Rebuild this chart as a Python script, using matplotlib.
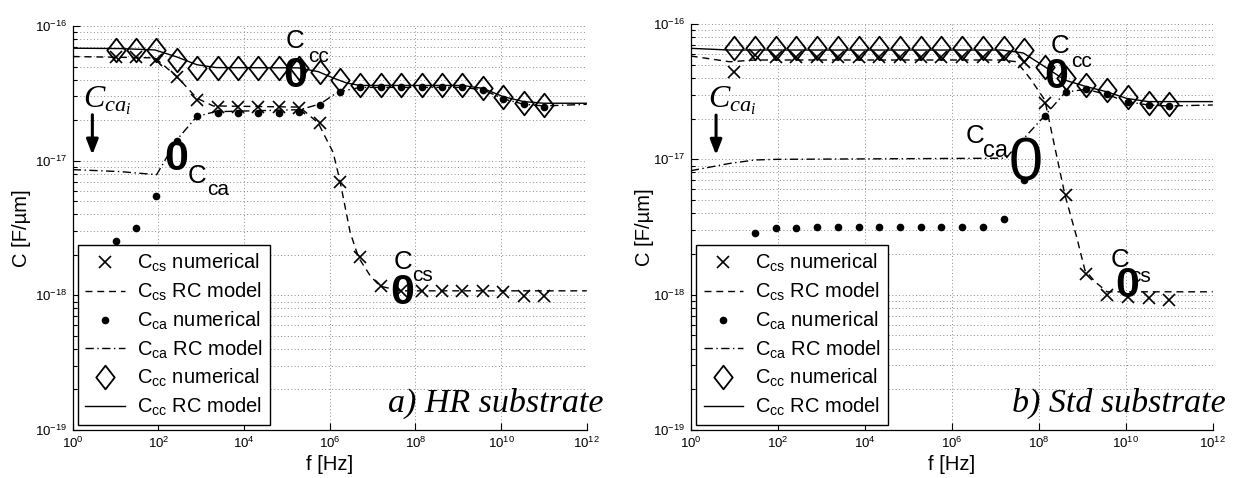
import numpy as np
import matplotlib
matplotlib.use("Agg")
import matplotlib.pyplot as plt
from matplotlib.path import Path
from matplotlib.ticker import FixedLocator, LogLocator, NullLocator, NullFormatter

plt.rcParams.update({
    "font.family": ["Liberation Sans", "DejaVu Sans"],
    "mathtext.fontset": "custom",
    "mathtext.rm": "Liberation Sans",
    "mathtext.it": "Liberation Serif:italic",
    "mathtext.bf": "Liberation Sans:bold",
})

# ---------------------------------------------------------------- data
# frequencies of the numerical (field-solver) samples [Hz]
f_num = [1.00e1, 2.99e1, 8.96e1, 2.68e2, 8.03e2, 2.40e3, 7.20e3, 2.15e4,
         6.45e4, 1.93e5, 5.78e5, 1.73e6, 5.18e6, 1.55e7, 4.64e7, 1.39e8,
         4.16e8, 1.245e9, 3.73e9, 1.12e10, 3.34e10, 1.00e11]

# a) HR substrate -- numerical results [F/um]
hr_ccs_num = [5.9e-17, 5.9e-17, 5.6e-17, 4.2e-17, 2.83e-17, 2.52e-17, 2.5e-17,
              2.5e-17, 2.5e-17, 2.45e-17, 1.9e-17, 7.0e-18, 1.91e-18, 1.17e-18,
              1.08e-18, 1.08e-18, 1.08e-18, 1.08e-18, 1.08e-18, 1.05e-18,
              0.99e-18, 0.99e-18]
hr_cca_num = [2.52e-18, 3.17e-18, 5.44e-18, 1.39e-17, 2.13e-17, 2.27e-17,
              2.27e-17, 2.27e-17, 2.27e-17, 2.3e-17, 2.6e-17, 3.26e-17,
              3.51e-17, 3.51e-17, 3.51e-17, 3.51e-17, 3.51e-17, 3.51e-17,
              3.36e-17, 2.88e-17, 2.63e-17, 2.52e-17]
hr_ccc_num = [6.64e-17, 6.64e-17, 6.64e-17, 5.6e-17, 4.86e-17, 4.86e-17,
              4.86e-17, 4.86e-17, 4.86e-17, 4.86e-17, 4.59e-17, 3.98e-17,
              3.66e-17, 3.66e-17, 3.66e-17, 3.66e-17, 3.66e-17, 3.66e-17,
              3.46e-17, 2.99e-17, 2.67e-17, 2.6e-17]

# a) HR substrate -- RC model curves
hr_ccs_f = [1e0, 8.3e1, 2.7e2, 7.9e2, 1.9e3, 2.0e5, 5.4e5, 1.2e6, 1.74e6,
            3.0e6, 4.7e6, 8.9e6, 1.5e7, 4.5e7, 1e12]
hr_ccs_rc = [5.93e-17, 5.8e-17, 4.21e-17, 2.91e-17, 2.55e-17, 2.5e-17,
             1.9e-17, 1.15e-17, 7.03e-18, 2.93e-18, 1.91e-18, 1.39e-18,
             1.17e-18, 1.08e-18, 1.08e-18]

hr_cca_f = [1e0, 1.26e1, 9.1e1, 2.7e2, 7.9e2, 2.1e3, 2.0e5, 6.0e5, 1.23e6,
            1.78e6, 5.1e6, 1.26e9, 3.8e9, 1.12e10, 3.3e10, 9.8e10, 1e12]
hr_cca_rc = [8.58e-18, 8.3e-18, 7.87e-18, 1.43e-17, 2.13e-17, 2.31e-17,
             2.39e-17, 2.64e-17, 3.08e-17, 3.26e-17, 3.5e-17, 3.5e-17,
             3.36e-17, 2.88e-17, 2.63e-17, 2.55e-17, 2.62e-17]

hr_ccc_f = [1e0, 1.26e1, 8.3e1, 2.7e2, 7.9e2, 2.24e3, 1.86e5, 5.4e5, 1.23e6,
            2.5e6, 5.1e6, 1.26e9, 3.8e9, 1.12e10, 3.3e10, 9.8e10, 1e12]
hr_ccc_rc = [6.84e-17, 6.8e-17, 6.64e-17, 5.89e-17, 5.16e-17, 4.91e-17,
             4.89e-17, 4.58e-17, 4.1e-17, 3.77e-17, 3.62e-17, 3.62e-17,
             3.44e-17, 2.99e-17, 2.75e-17, 2.67e-17, 2.67e-17]

# b) Std substrate -- numerical results [F/um]
std_ccs_num = [4.44e-17, 5.9e-17, 5.75e-17, 5.75e-17, 5.75e-17, 5.75e-17,
               5.75e-17, 5.75e-17, 5.75e-17, 5.75e-17, 5.75e-17, 5.75e-17,
               5.75e-17, 5.73e-17, 5.27e-17, 2.6e-17, 5.45e-18, 1.43e-18,
               9.9e-19, 9.6e-19, 9.4e-19, 9.2e-19]
std_cca_num = [np.nan, 2.84e-18, 3.09e-18, 3.13e-18, 3.15e-18, 3.15e-18,
               3.15e-18, 3.15e-18, 3.15e-18, 3.15e-18, 3.15e-18, 3.15e-18,
               3.17e-18, 3.62e-18, 7.03e-18, 2.09e-17, 3.16e-17, 3.29e-17,
               3.02e-17, 2.67e-17, 2.52e-17, 2.48e-17]
std_ccc_num = [6.61e-17, 6.61e-17, 6.61e-17, 6.61e-17, 6.61e-17, 6.61e-17,
               6.61e-17, 6.61e-17, 6.61e-17, 6.61e-17, 6.61e-17, 6.61e-17,
               6.61e-17, 6.61e-17, 6.42e-17, 4.84e-17, 3.97e-17, 3.54e-17,
               3.25e-17, 2.9e-17, 2.6e-17, 2.56e-17]

# b) Std substrate -- RC model curves
std_ccs_f = [1e0, 7.9e0, 3.0e1, 1.4e7, 3.1e7, 6.3e7, 1.38e8, 4.0e8, 7.4e8,
             1.15e9, 2.0e9, 3.7e9, 1e12]
std_ccs_rc = [5.8e-17, 5.26e-17, 5.42e-17, 5.42e-17, 5.26e-17, 3.97e-17,
              2.74e-17, 5.45e-18, 2.68e-18, 1.52e-18, 1.24e-18, 1.05e-18,
              1.05e-18]

std_cca_f = [1e0, 7.9e0, 3.0e1, 9.5e1, 1.8e7, 2.2e7, 1.41e8, 4.1e8, 1.23e9,
             3.6e9, 1.05e10, 3.3e10, 9.5e10, 1e12]
std_cca_rc = [8.24e-18, 9.33e-18, 9.89e-18, 1.0e-17, 1.02e-17, 1.11e-17,
              2.12e-17, 3.14e-17, 3.29e-17, 3.02e-17, 2.67e-17, 2.52e-17,
              2.48e-17, 2.52e-17]

std_ccc_f = [1e0, 7.9e0, 1.4e7, 4.4e7, 1.38e8, 4.0e8, 1.26e9, 3.6e9, 1.05e10,
             3.3e10, 1e12]
std_ccc_rc = [6.61e-17, 6.42e-17, 6.42e-17, 6.11e-17, 4.83e-17, 3.85e-17,
              3.44e-17, 3.16e-17, 2.82e-17, 2.67e-17, 2.67e-17]

x_ticks = [1e0, 1e2, 1e4, 1e6, 1e8, 1e10, 1e12]

legend_labels = [r"$\mathregular{C_{cs}}$ numerical", r"$\mathregular{C_{cs}}$ RC model",
                 r"$\mathregular{C_{ca}}$ numerical", r"$\mathregular{C_{ca}}$ RC model",
                 r"$\mathregular{C_{cc}}$ numerical", r"$\mathregular{C_{cc}}$ RC model"]

# ---------------------------------------------------------------- styling
diamond = Path([(0, 1), (0.78, 0), (0, -1), (-0.78, 0), (0, 1)],
               [Path.MOVETO, Path.LINETO, Path.LINETO, Path.LINETO, Path.CLOSEPOLY])
DASH = (5, 3.5)
DASHDOT = (6, 2.5, 1, 2.5)
LW = 1.0


def draw_panel(ax, num, rc, caption, cap_x):
    ccs_n, cca_n, ccc_n = num
    (fs, cs), (fa, ca), (fc, cc) = rc
    h = []
    h += ax.plot(f_num, ccs_n, ls="none", marker="x", ms=9, mew=1.2, color="k")
    h += ax.plot(fs, cs, color="k", lw=LW, dashes=DASH)
    h += ax.plot(f_num, cca_n, ls="none", marker="o", ms=4.5, color="k")
    h += ax.plot(fa, ca, color="k", lw=LW, dashes=DASHDOT)
    h += ax.plot(f_num, ccc_n, ls="none", marker=diamond, ms=17, mew=1.3,
                 mfc="none", mec="k")
    h += ax.plot(fc, cc, color="k", lw=LW, ls="-")

    ax.set_xscale("log")
    ax.set_yscale("log")
    ax.set_xlim(1e0, 1e12)
    ax.set_ylim(1e-19, 1e-16)
    ax.xaxis.set_major_locator(FixedLocator(x_ticks))
    ax.xaxis.set_minor_locator(NullLocator())
    ax.yaxis.set_major_locator(LogLocator(base=10, numticks=10))
    ax.yaxis.set_minor_locator(LogLocator(base=10, subs=np.arange(2, 10), numticks=10))
    ax.yaxis.set_minor_formatter(NullFormatter())
    ax.tick_params(which="both", direction="in", labelsize=9.5, width=0.8)
    ax.tick_params(which="major", length=5, pad=4)
    ax.tick_params(which="minor", length=3)
    for s in ("top", "right"):
        ax.spines[s].set_visible(False)
    for s in ("left", "bottom"):
        ax.spines[s].set_linewidth(0.9)
    ax.grid(True, which="major", axis="x", ls=(0, (1, 2.5)), color="0.55", lw=0.7)
    ax.grid(True, which="both", axis="y", ls=(0, (1, 2.5)), color="0.55", lw=0.7)
    ax.set_axisbelow(True)

    ax.set_xlabel("f [Hz]", fontsize=14.5, labelpad=3)
    ax.set_ylabel("C [F/\u00b5m]", fontsize=14.5)

    leg = ax.legend(h, legend_labels, loc="lower left",
                    bbox_to_anchor=(0.011, 0.012), borderaxespad=0,
                    fontsize=14.5, fancybox=False, framealpha=1,
                    edgecolor="k", handlelength=1.95, handletextpad=0.6,
                    labelspacing=0.32, borderpad=0.35)
    leg.get_frame().set_linewidth(1.0)

    fig.text(cap_x, 0.1387, caption, fontsize=24.5, style="italic",
             family=["Liberation Serif", "DejaVu Serif"], va="baseline")


fig = plt.figure(figsize=(12.35, 4.78), dpi=100)
ax1 = fig.add_axes([0.0589, 0.1004, 0.4162, 0.8452])
ax2 = fig.add_axes([0.5593, 0.1004, 0.4227, 0.8494])

draw_panel(ax1, (hr_ccs_num, hr_cca_num, hr_ccc_num),
           ((hr_ccs_f, hr_ccs_rc), (hr_cca_f, hr_cca_rc), (hr_ccc_f, hr_ccc_rc)),
           "a) HR substrate", 0.3142)
draw_panel(ax2, (std_ccs_num, std_cca_num, std_ccc_num),
           ((std_ccs_f, std_ccs_rc), (std_cca_f, std_cca_rc), (std_ccc_f, std_ccc_rc)),
           "b) Std substrate", 0.8192)

ax1.yaxis.set_label_coords(-0.081, 0.5)
ax2.yaxis.set_label_coords(-0.070, 0.5)


def mark(ax, lc, ls_, lo, sub, big=31, bold=True, csize=18.6, ssize=15):
    """Label C_sub with a large ring placed on the curve it refers to."""
    ax.text(10 ** lc[0], 10 ** lc[1], "C", fontsize=csize, ha="center", va="baseline")
    ax.text(10 ** ls_[0], 10 ** ls_[1], sub, fontsize=ssize, ha="center", va="baseline")
    ax.text(10 ** lo[0], 10 ** lo[1], "0", fontsize=big, ha="center", va="baseline",
            fontweight="bold" if bold else "normal")


# HR panel labels
mark(ax1, (5.19, -16.165), (5.73, -16.267), (5.19, -16.452), "cc")
mark(ax1, (2.897, -17.165), (3.40, -17.252), (2.409, -17.067), "ca")
mark(ax1, (7.70, -17.807), (8.17, -17.894), (7.70, -18.067), "cs")
# Std panel labels
mark(ax2, (8.49, -16.217), (8.99, -16.316), (8.41, -16.475), "cc")
mark(ax2, (6.54, -16.882), (7.01, -16.981), (7.70, -17.153), "ca",
     big=44, bold=False, ssize=17)
mark(ax2, (9.87, -17.794), (10.33, -17.905), (10.04, -18.018), "cs")

# initial C_ca value indicated by an arrow
for ax, (tx, ty), (axx, ytop, ybot) in (
        (ax1, (0.241, -16.607), (0.458, -16.659, -16.956)),
        (ax2, (0.405, -16.614), (0.582, -16.673, -16.968))):
    ax.text(10 ** tx, 10 ** ty, r"$C_{ca_i}$", fontsize=23, ha="left", va="baseline")
    ax.annotate("", xy=(10 ** axx, 10 ** ybot), xytext=(10 ** axx, 10 ** ytop),
                arrowprops=dict(arrowstyle="-|>,head_length=0.9,head_width=0.35",
                                color="k", lw=2.2, shrinkA=0, shrinkB=0))

fig.savefig("out.png", dpi=100)
